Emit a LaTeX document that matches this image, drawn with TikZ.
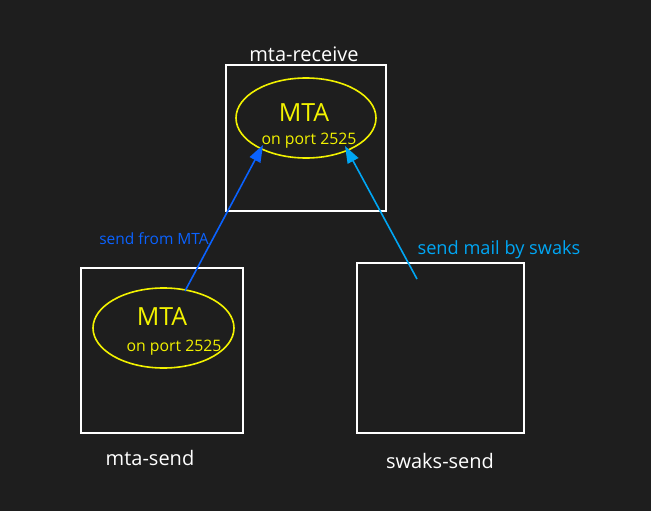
\documentclass[tikz,border=0pt]{standalone}
\usepackage{fontspec}
\setmainfont{Open Sans}
\usetikzlibrary{shapes.geometric,arrows.meta}
\definecolor{bg}{HTML}{1E1E1E}
\definecolor{mtayellow}{HTML}{F2F200}
\definecolor{blueA}{HTML}{0A62FF}
\definecolor{blueB}{HTML}{00A6F4}
\tikzset{
  hostbox/.style={draw=white,line width=1.6pt,inner sep=0pt},
  mtaell/.style={draw=mtayellow,ellipse,line width=1.6pt,inner sep=0pt},
  hostlabel/.style={text=white,font=\fontsize{20}{23}\selectfont,inner sep=0pt},
  bigtxt/.style={text=mtayellow,font=\fontsize{25}{29}\selectfont,inner sep=0pt},
  smalltxt/.style={text=mtayellow,font=\fontsize{15.8}{19}\selectfont,inner sep=0pt},
  conn/.style={line width=1.6pt,-{Triangle[length=17pt,width=12pt]}},
}
\begin{document}
\begin{tikzpicture}[x=1pt,y=-1pt]
\fill[bg] (0,0) rectangle (651,511);
\useasboundingbox (0,0) rectangle (651,511);
% boxes
\node[hostbox,minimum width=160pt,minimum height=146pt] (recv) at (306,138) {};
\node[hostbox,minimum width=162pt,minimum height=165pt] (send) at (162,350.5) {};
\node[hostbox,minimum width=167pt,minimum height=170pt] (swaks) at (440.5,348) {};
% ellipses
\node[mtaell,minimum width=140pt,minimum height=80pt] (e1) at (306,118) {};
\node[mtaell,minimum width=141pt,minimum height=80pt] (e2) at (163.5,328) {};
% texts
\node[hostlabel] (lrecv) at (304,54) {mta-receive};
\node[hostlabel] (lsend) at (150,458) {mta-send};
\node[hostlabel] (lswaks) at (440,461) {swaks-send};
\node[bigtxt] (m1) at (304,113) {MTA};
\node[smalltxt] (p1) at (309,141) {on port 2525};
\node[bigtxt] (m2) at (162,317) {MTA};
\node[smalltxt] (p2) at (174,348) {on port 2525};
\node[text=blueA,font=\fontsize{15.5}{18}\selectfont,inner sep=0pt] (l1) at (154,239) {send from MTA};
\node[text=blueB,font=\fontsize{18.2}{21}\selectfont,inner sep=0pt] (l2) at (499,250) {send mail by swaks};
% connectors
\coordinate (a1s) at (185,291);
\coordinate (a1e) at (263,145);
\coordinate (a2s) at (417,279);
\coordinate (a2e) at (345,146);
\draw[conn,draw=blueA,fill=blueA] (a1s) -- (a1e);
\draw[conn,draw=blueB,fill=blueB] (a2s) -- (a2e);
\end{tikzpicture}
\end{document}
